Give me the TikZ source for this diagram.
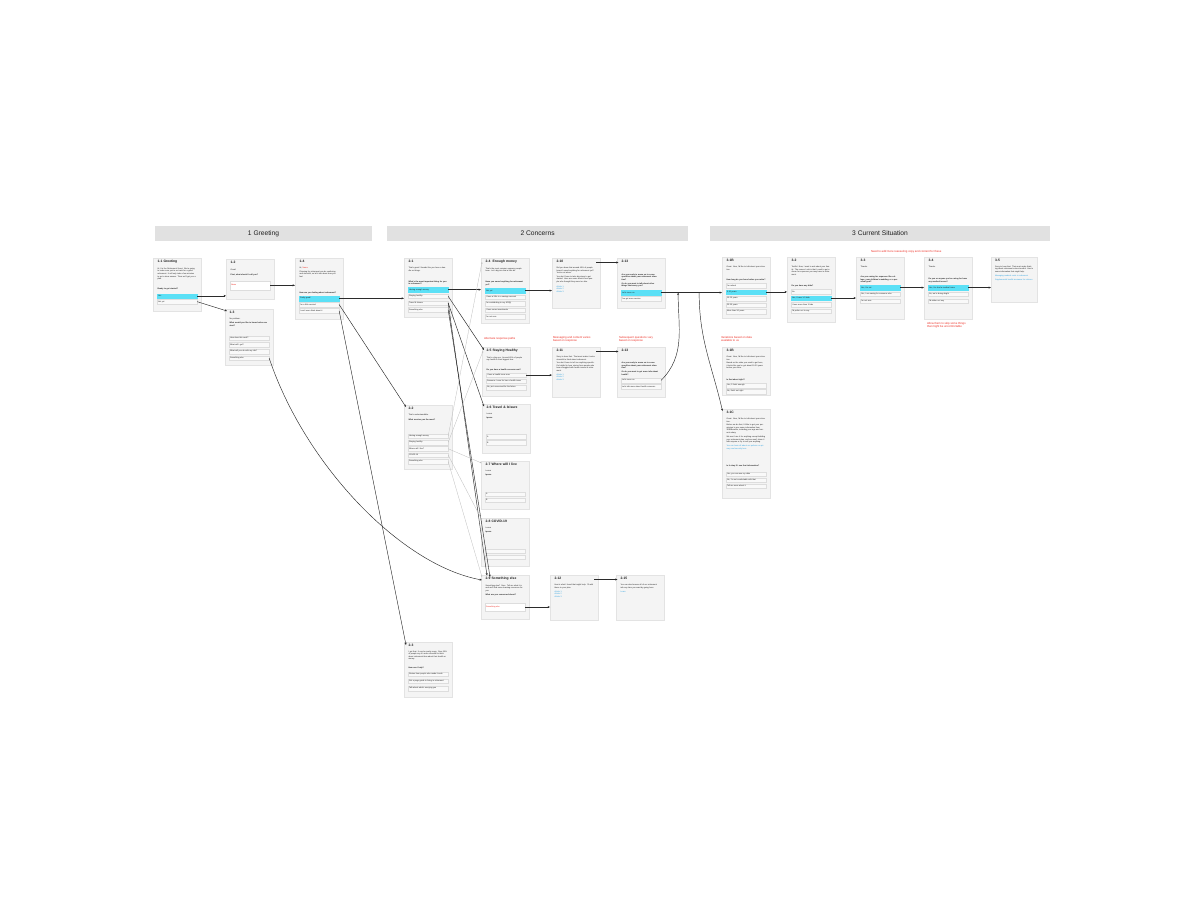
\documentclass[tikz,border=0pt]{standalone}
\usepackage{fontspec}
\setmainfont{Liberation Sans}
\usetikzlibrary{positioning, arrows.meta, calc}
\definecolor{ink}{HTML}{1E1E1E}
\definecolor{headbg}{HTML}{E1E1E1}
\definecolor{cardbg}{HTML}{F4F4F4}
\definecolor{cardline}{HTML}{E3E3E3}
\definecolor{optfill}{HTML}{F9F9F9}
\definecolor{optline}{HTML}{DDDDDD}
\definecolor{pickcyan}{HTML}{5BE0F6}
\definecolor{notered}{HTML}{EE2E24}
\definecolor{linkblue}{HTML}{2FA3E2}
\definecolor{wire}{HTML}{2B2B2B}
\definecolor{faint}{HTML}{BDBDBD}
\newcommand{\headfont}{\fontsize{19}{22}\selectfont}
\newcommand{\cardtitlefont}{\fontsize{9.5}{11}\selectfont\bfseries}
\newcommand{\cardbodyfont}{\fontsize{5.6}{7.4}\selectfont}
\newcommand{\linkfont}{\fontsize{5.6}{6.5}\selectfont}
\newcommand{\notefont}{\fontsize{8}{9.4}\selectfont}

\begin{document}
\begin{tikzpicture}[x=1mm, y=-1mm,
    every node/.style={inner sep=0pt, text=ink},
    band/.style={fill=headbg, minimum height=15.5mm, font=\headfont, anchor=north west},
    card/.style={draw=cardline, fill=cardbg, minimum width=48mm, anchor=north west, line width=0.3mm},
    ttl/.style={text width=39mm, inner xsep=0.5mm, font=\cardtitlefont, align=left},
    txt/.style={text width=39mm, inner xsep=0.5mm, font=\cardbodyfont, align=left},
    ask/.style={txt, font=\cardbodyfont\bfseries},
    hyper/.style={txt, text=linkblue, font=\linkfont},
    opt/.style={draw=optline, fill=optfill, text width=38mm, inner xsep=1mm, minimum height=4.5mm, font=\cardbodyfont, align=left},
    pick/.style={opt, draw=pickcyan, fill=pickcyan},
    field/.style={opt, fill=white, minimum height=8.5mm, text=notered},
    note/.style={font=\notefont, text=notered, align=left, anchor=north west},
    flow/.style={draw=wire, line width=0.45mm, -{Stealth[length=2.4mm, width=2mm]}},
    soft/.style={draw=faint, line width=0.3mm, -{Stealth[length=1.8mm, width=1.5mm]}}]

  \fill[white] (0,0) rectangle (1200,900);

  % section bars
  \node[band, minimum width=217mm] (h1) at (155,225.5) {1 Greeting};
  \node[band, minimum width=301mm] (h2) at (387,225.5) {2 Concerns};
  \node[band, minimum width=340mm] (h3) at (710,225.5) {3 Current Situation};

  % 1 Greeting
  \node[card, minimum height=53mm] (c11) at (153,258) {};
  \node[ttl, below right=2.5mm and 4mm of c11.north west] (t11) {1-1 Greeting};
  \node[txt, below=4mm of t11] (b11) {Hi, I'm the Retirement Scout. We're going to make sure you're on track for a good retirement. It will only take a few minutes to get a clear answer. Then we'll get you a plan.};
  \node[pick, below right=35.5mm and 4mm of c11.north west] (o11a) {Yes};
  \node[opt, below=1.2mm of o11a] (o11b) {Not yet};
  \node[ask, above=3.5mm of o11a] (q11) {Ready to get started?};

  \node[card, minimum height=40mm] (c12) at (226,259) {};
  \node[ttl, below right=2.5mm and 4mm of c12.north west] (t12) {1-2};
  \node[txt, below=5.5mm of t12] (b12) {Great!};
  \node[ask, below=3mm of b12] (q12) {First, what should I call you?};
  \node[field, below right=22mm and 4mm of c12.north west] (f12) {Name};

  \node[card, minimum height=56mm] (c13) at (225,309) {};
  \node[ttl, below right=2.5mm and 4mm of c13.north west] (t13) {1-3};
  \node[txt, below=4mm of t13] (b13) {No problem.};
  \node[ask, below=2.5mm of b13] (q13) {What would you like to know before we start?};
  \node[opt, below right=26.8mm and 4mm of c13.north west] (o13a) {How does this work?};
  \node[opt, below=2mm of o13a] (o13b) {What will I get?};
  \node[opt, below=2mm of o13b] (o13c) {What will you do with my info?};
  \node[opt, below=2mm of o13c] (o13d) {Something else};

  \node[card, minimum height=61mm] (c14) at (295,258) {};
  \node[ttl, below right=2.5mm and 4mm of c14.north west] (t14) {1-4};
  \node[txt, below=4mm of t14] (b14) {Hi, \textcolor{notered}{Name}};
  \node[txt, below=1.8mm of b14] (b14b) {Planning for retirement can be confusing and stressful, so let's talk about how you feel.};
  \node[pick, below right=38mm and 4mm of c14.north west] (o14a) {Pretty good!};
  \node[opt, below=1.6mm of o14a] (o14b) {I'm a little worried};
  \node[opt, below=1.6mm of o14b] (o14c) {I can't even think about it};
  \node[ask, above=2.5mm of o14a] (q14) {How are you feeling about retirement?};

  % 2 Concerns
  \node[card, minimum height=59mm] (c21) at (404,258) {};
  \node[ttl, below right=2.5mm and 4mm of c21.north west] (t21) {2-1};
  \node[txt, below=4mm of t21] (b21) {That's great! Sounds like you have a handle on things.};
  \node[pick, below right=29.3mm and 4mm of c21.north west] (o21a) {Having enough money};
  \node[opt, below=2mm of o21a] (o21b) {Staying healthy};
  \node[opt, below=2mm of o21b] (o21c) {Travel \& leisure};
  \node[opt, below=2mm of o21c] (o21d) {Something else};
  \node[ask, above=2.5mm of o21a] (q21) {What's the most important thing for you in retirement?};

  \node[card, minimum height=64mm] (c22) at (404,405) {};
  \node[ttl, below right=2.5mm and 4mm of c22.north west] (t22) {2-2};
  \node[txt, below=4.5mm of t22] (b22) {That's understandable.};
  \node[ask, below=2.5mm of b22] (q22) {What worries you the most?};
  \node[opt, below right=28.75mm and 4mm of c22.north west] (o22a) {Having enough money};
  \node[opt, below=1.7mm of o22a] (o22b) {Staying healthy};
  \node[opt, below=1.7mm of o22b] (o22c) {Where will I live?};
  \node[opt, below=1.7mm of o22c] (o22d) {COVID-19};
  \node[opt, below=1.7mm of o22d] (o22e) {Something else};

  \node[card, minimum height=55mm] (c23) at (404,642) {};
  \node[ttl, below right=2.5mm and 4mm of c23.north west] (t23) {2-3};
  \node[txt, below=3.5mm of t23] (b23) {I get that. It can be pretty scary. Over 60\% of people say it's more stressful to think about retirement than about their health or money.};
  \node[opt, below right=29.75mm and 4mm of c23.north west] (o23a) {Stories from people who made it work};
  \node[opt, below=2.5mm of o23a] (o23b) {Get a page guide to living in retirement};
  \node[opt, below=2.5mm of o23b] (o23c) {Talk about what's worrying you};
  \node[ask, above=2.5mm of o23a] (q23) {How can I help?};

  \node[card, minimum height=65mm] (c24) at (481,258) {};
  \node[ttl, below right=2.5mm and 4mm of c24.north west] (t24) {2-4~~Enough money};
  \node[txt, below=4mm of t24] (b24) {That's the most common concern people have. Let's dig into that a little bit.};
  \node[pick, below right=30.25mm and 4mm of c24.north west] (o24a) {Not yet};
  \node[opt, below=1.8mm of o24a] (o24b) {I have a little in a savings account};
  \node[opt, below=1.8mm of o24b] (o24c) {I'm contributing to my 401(k)};
  \node[opt, below=1.8mm of o24c] (o24d) {I have some investments};
  \node[opt, below=1.8mm of o24d] (o24e) {I'm not sure};
  \node[ask, above=2.5mm of o24a] (q24) {Have you saved anything for retirement yet?};

  \node[card, minimum height=50mm] (c210) at (552,258) {};
  \node[ttl, below right=2.5mm and 4mm of c210.north west] (t210) {2-10};
  \node[txt, below=4mm of t210] (b210) {Did you know that around 45\% of people haven't saved anything for retirement yet? You're not alone.};
  \node[txt, below=2mm of b210] (b210b) {You don't have to take big steps to get started. Here are some stories from people who thought they were too late.};
  \node[hyper, below=3mm of b210b] (l210) {Article 1\\Article 2\\Article 3};

  \node[card, minimum height=50mm] (c213a) at (617,258) {};
  \node[ttl, below right=2.5mm and 4mm of c213a.north west] (t213a) {2-13};
  \node[pick, below right=32.25mm and 4mm of c213a.north west] (o213a) {Let's move on};
  \node[opt, below=1.5mm of o213a] (o213b) {I've got more worries};
  \node[ask, above=2.8mm of o213a] (q213a) {Are you ready to move on to some specifics about your retirement situation?\\[1.3mm]Or do you want to talk about other things that worry you?};

  \node[card, minimum height=49mm] (c25) at (482,347) {};
  \node[ttl, below right=2.5mm and 4mm of c25.north west] (t25) {2-5 Staying Healthy};
  \node[txt, below=4mm of t25] (b25) {That's a big one. Around 40\% of people say health is their biggest fear.};
  \node[opt, below right=25.75mm and 4mm of c25.north west] (o25a) {I have a health issue now};
  \node[opt, below=1.5mm of o25a] (o25b) {Someone I care for has a health issue};
  \node[opt, below=1.5mm of o25b] (o25c) {No, just concerned for the future};
  \node[ask, above=2.2mm of o25a] (q25) {Do you have a health concern now?};

  \node[card, minimum height=50mm] (c211) at (552,347) {};
  \node[ttl, below right=2.5mm and 4mm of c211.north west] (t211) {2-11};
  \node[txt, below=4mm of t211] (b211) {Sorry to hear that. That must make it extra stressful to think about retirement.};
  \node[txt, below=2mm of b211] (b211b) {You don't have to tell me anything specific. It's helpful to hear stories from people who have struggled with health issues in retirement.};
  \node[hyper, below=2.5mm of b211b] (l211) {Article 1\\Article 2\\Article 3};

  \node[card, minimum height=50mm] (c213b) at (617,347) {};
  \node[ttl, below right=2.5mm and 4mm of c213b.north west] (t213b) {2-13};
  \node[opt, below right=31mm and 4mm of c213b.north west] (o213c) {Let's move on};
  \node[opt, below=1.5mm of o213c] (o213d) {Let's talk more about health concerns};
  \node[ask, above=2.8mm of o213c] (q213b) {Are you ready to move on to some specifics about your retirement situation?\\[1.3mm]Or do you want to get more info about health?};

  \node[card, minimum height=49mm] (c26) at (482,404) {};
  \node[ttl, below right=2.5mm and 4mm of c26.north west] (t26) {2-6 Travel \& leisure};
  \node[txt, below=4mm of t26] (b26) {Lorem};
  \node[ask, below=2.5mm of b26] (q26) {Ipsum};
  \node[opt, below right=30.25mm and 4mm of c26.north west] (o26a) {A};
  \node[opt, below=1.5mm of o26a] (o26b) {B};

  \node[card, minimum height=48mm] (c27) at (481,461) {};
  \node[ttl, below right=2.5mm and 4mm of c27.north west] (t27) {2-7 Where will I live};
  \node[txt, below=4mm of t27] (b27) {Lorem};
  \node[ask, below=2.5mm of b27] (q27) {Ipsum};
  \node[opt, below right=30.5mm and 4mm of c27.north west] (o27a) {A};
  \node[opt, below=1.5mm of o27a] (o27b) {B};

  \node[card, minimum height=48mm] (c28) at (481,518) {};
  \node[ttl, below right=2.5mm and 4mm of c28.north west] (t28) {2-8 COVID-19};
  \node[txt, below=4mm of t28] (b28) {Lorem};
  \node[ask, below=2.5mm of b28] (q28) {Ipsum};
  \node[opt, below right=30.5mm and 4mm of c28.north west] (o28a) {};
  \node[opt, below=1.5mm of o28a] (o28b) {};

  \node[card, minimum height=44mm] (c29) at (481,575) {};
  \node[ttl, below right=2.5mm and 4mm of c29.north west] (t29) {2-9 Something else};
  \node[txt, below=4mm of t29] (b29) {Something else? Sure. Tell me what it is and we'll find some learning resources for you.};
  \node[ask, below=2.2mm of b29] (q29) {What are you concerned about?};
  \node[field, below right=27.7mm and 4mm of c29.north west] (f29) {Something else};

  \node[card, minimum height=45mm] (c212) at (550,575) {};
  \node[ttl, below right=2.5mm and 4mm of c212.north west] (t212) {2-12};
  \node[txt, below=4mm of t212] (b212) {Here's what I found that might help. I'll add these to your plan.};
  \node[hyper, below=2.5mm of b212] (l212) {Article 1\\Article 2\\Article 3};

  \node[card, minimum height=45mm] (c215) at (616,575) {};
  \node[ttl, below right=2.5mm and 4mm of c215.north west] (t215) {2-15};
  \node[txt, below=4mm of t215] (b215) {You can also browse all of our retirement info any time you want by going here:};
  \node[hyper, below=2.5mm of b215] (l215) {Learn};

  % 3 Current Situation
  \node[card, minimum height=61mm] (c31b) at (722,257) {};
  \node[ttl, below right=2.5mm and 4mm of c31b.north west] (t31b) {3-1B};
  \node[txt, below=4mm of t31b] (b31b) {Great. Now, I'd like to talk about your situation.};
  \node[opt, below right=26mm and 4mm of c31b.north west] (o31ba) {I'm retired};
  \node[pick, below=1.9mm of o31ba] (o31bb) {5-10 years};
  \node[opt, below=1.9mm of o31bb] (o31bc) {10-20 years};
  \node[opt, below=1.9mm of o31bc] (o31bd) {20-30 years};
  \node[opt, below=1.9mm of o31bd] (o31be) {More than 30 years};
  \node[ask, above=2.2mm of o31ba] (q31b) {How long do you have before you retire?};

  \node[card, minimum height=65mm] (c32) at (787,257) {};
  \node[ttl, below right=2.5mm and 4mm of c32.north west] (t32) {3-2};
  \node[txt, below=4mm of t32] (b32) {Terrific! Now, I want to ask about your family. The reason I ask is that I need to get a sense for expenses you may have in retirement.};
  \node[opt, below right=32.25mm and 4mm of c32.north west] (o32a) {No};
  \node[pick, below=1.8mm of o32a] (o32b) {Yes, I have 1-3 kids};
  \node[opt, below=1.8mm of o32b] (o32c) {I have more than 3 kids};
  \node[opt, below=1.8mm of o32c] (o32d) {I'd prefer not to say};
  \node[ask, above=2.5mm of o32a] (q32) {Do you have any kids?};

  \node[card, minimum height=62mm] (c33) at (856,257) {};
  \node[ttl, below right=2.5mm and 4mm of c33.north west] (t33) {3-3};
  \node[txt, below=4mm of t33] (b33) {Thanks.};
  \node[pick, below right=28.25mm and 4mm of c33.north west] (o33a) {Yes, I'm set};
  \node[opt, below=2mm of o33a] (o33b) {Yes, I am saving for someone else};
  \node[opt, below=2mm of o33b] (o33c) {I'm not sure};
  \node[ask, above=2mm of o33a] (q33) {Are you saving for expenses like college, your children's wedding, or a personal goal?};

  \node[card, minimum height=62mm] (c34) at (924,257) {};
  \node[ttl, below right=2.5mm and 4mm of c34.north west] (t34) {3-4};
  \node[txt, below=4mm of t34] (b34) {Thanks.};
  \node[pick, below right=28.25mm and 4mm of c34.north west] (o34a) {Yes, I've had a medical issue};
  \node[opt, below=2mm of o34a] (o34b) {No, we're doing alright};
  \node[opt, below=2mm of o34b] (o34c) {I'd rather not say};
  \node[ask, above=2.5mm of o34a] (q34) {Do you or anyone you're caring for have any medical issues?};

  \node[card, minimum width=46mm, minimum height=45mm] (c35) at (991,257) {};
  \node[ttl, below right=2.5mm and 3.5mm of c35.north west] (t35) {3-5};
  \node[txt, below=3.5mm of t35] (b35) {Sorry to hear that. That must make thinking about retirement extra stressful. Here's some information that might help.};
  \node[hyper, below=2.5mm of b35] (l35a) {Managing medical costs in retirement};
  \node[hyper, below=1.5mm of l35a] (l35b) {Supplemental health insurance for retirees};

  \node[card, minimum height=48mm] (c31bx) at (722,347) {};
  \node[ttl, below right=2.5mm and 4mm of c31bx.north west] (t31bx) {3-1B};
  \node[txt, below=4mm of t31bx] (b31bx) {Great. Now, I'd like to talk about your situation.};
  \node[txt, below=1.8mm of b31bx] (b31bxb) {Based on the state you used to get here, it looks like you've got about 10-20 years before you retire.};
  \node[opt, below right=36mm and 4mm of c31bx.north west] (o31bxa) {Yes, 5 feels enough};
  \node[opt, below=1.5mm of o31bxa] (o31bxb) {No, that's not right};
  \node[ask, above=2.2mm of o31bxa] (q31bx) {Is that about right?};

  \node[card, minimum height=89mm] (c31c) at (722,409) {};
  \node[ttl, below right=2.5mm and 4mm of c31c.north west] (t31c) {3-1C};
  \node[txt, below=4mm of t31c] (b31c) {Great. Now, I'd like to talk about your situation.};
  \node[txt, below=2mm of b31c] (b31cb) {Before we do that, I'd like to get your permission to use some information from 3DB/Benefits, including your age and current salary.};
  \node[txt, below=2mm of b31cb] (b31cc) {We won't use it for anything except building your retirement plan, and we won't share it with anyone or try to sell you anything.};
  \node[hyper, below=2.2mm of b31cc] (l31c) {You can learn all about our policies on privacy and security here};
  \node[opt, below right=62.5mm and 4mm of c31c.north west] (o31ca) {Yes, you can use my data};
  \node[opt, below=1.5mm of o31ca] (o31cb) {No, I'm not comfortable with that};
  \node[opt, below=1.5mm of o31cb] (o31cc) {Tell me more about it};
  \node[ask, above=5mm of o31ca] (q31c) {Is it okay if I use that information?};

  % red notes
  \node[note] (n1) at (484,337) {Alternate response paths};
  \node[note] (n2) at (553,336) {Messaging and content varies\\based on response};
  \node[note] (n3) at (619,336) {Subsequent questions vary\\based on response};
  \node[note] (n4) at (721,336) {Variations based on data\\available to us};
  \node[note] (n5) at (871,250.5) {Need to add more reassuring copy and content for these};
  \node[note] (n6) at (927,322) {Allow them to skip some things\\that might be uncomfortable};

  % connectors
  \draw[flow] (o11a.east) -- (o11a.east -| c12.west);
  \draw[flow] (o11b.east) -- ([shift={(2,2)}]c13.north west);
  \draw[flow] (f12.east) -- (f12.east -| c14.west);
  \draw[flow] (o14a.east) -- (o14a.east -| c21.west);
  \draw[flow] (o14b.east) -- ([shift={(2,2)}]c22.north west);
  \draw[flow] (o14c.east) -- ([shift={(2,3)}]c23.north west);
  \draw[flow] (o13d.east) .. controls +(35,105) and +(-82,-15) .. ([shift={(1,5)}]c29.north west);

  \draw[flow] (o21a.east) -- (o21a.east -| c24.west);
  \draw[flow] (o21b.east) -- ([shift={(2,3)}]c25.north west);
  \draw[flow] (o21c.east) -- ([shift={(2,2.5)}]c26.north west);
  \draw[flow] (o21c.east) -- ([shift={(6,0.5)}]c29.north west);
  \draw[flow] (o21d.east) -- ([shift={(9,2)}]c29.north west);

  \draw[soft] (o22a.east) -- ([shift={(1,4)}]c24.north west);
  \draw[soft] (o22b.east) -- ([shift={(1,4)}]c25.north west);
  \draw[soft] (o22c.east) -- ([shift={(0.5,2)}]c27.north west);
  \draw[soft] (o22d.east) -- ([shift={(1,2)}]c28.north west);
  \draw[soft] (o22e.east) -- ([shift={(1,2)}]c29.north west);

  \draw[flow] (o24a.east) -- (o24a.east -| c210.west);
  \draw[flow] ([shift={(-4,4.5)}]c210.north east) -- ([shift={(1.5,4.5)}]c213a.north west);
  \draw[flow] (o25a.east) -- (o25a.east -| c211.west);
  \draw[flow] ([shift={(-4,4.5)}]c211.north east) -- ([shift={(1.5,4.5)}]c213b.north west);
  \draw[flow] (f29.east) -- (f29.east -| c212.west);
  \draw[flow] ([shift={(-4,4.5)}]c212.north east) -- ([shift={(1.5,4.5)}]c215.north west);

  \coordinate (merge) at ($(o213a.east)+(17,0)$);
  \coordinate (split) at ($(o213a.east)+(38,0)$);
  \draw[flow] (o213a.east) -- (o213a.east -| c31b.west);
  \draw[flow] (o213c.east) to[out=45, in=-90] (merge);
  \draw[flow] (split) to[out=-90, in=103] ([shift={(0.5,2)}]c31c.north west);

  \draw[flow] (o31bb.east) -- (o31bb.east -| c32.west);
  \draw[flow] (o32b.east) -- (o32b.east -| c33.west);
  \draw[flow] (o33a.east) -- (o33a.east -| c34.west);
  \draw[flow] (o34a.east) -- (o34a.east -| c35.west);
\end{tikzpicture}
\end{document}
